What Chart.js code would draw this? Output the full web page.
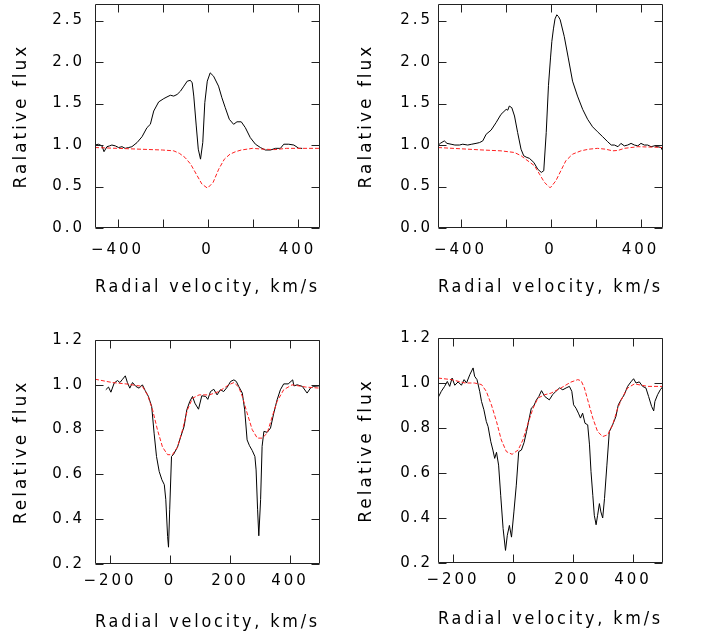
<!DOCTYPE html>
<html>
<head>
<meta charset="utf-8">
<script src="https://cdn.jsdelivr.net/npm/chart.js@4.4.0/dist/chart.umd.min.js"></script>
<style>
body { margin: 0; background: #fff; width: 705px; height: 637px; position: relative; overflow: hidden; }
canvas { position: absolute; }
</style>
</head>
<body>
<canvas id="c1" width="352" height="318" style="left:0;top:0"></canvas>
<canvas id="c2" width="353" height="318" style="left:352px;top:0"></canvas>
<canvas id="c3" width="352" height="319" style="left:0;top:318px"></canvas>
<canvas id="c4" width="353" height="319" style="left:352px;top:318px"></canvas>
<script>
// tick values
const topXTicks = [-400, -200, 0, 200, 400];
const topXLabels = [-400, 0, 400];
const topYTicks = [0, 0.5, 1.0, 1.5, 2.0, 2.5];
const botXTicks = [-200, 0, 200, 400];
const botXLabels = [-200, 0, 200, 400];
const botYTicks = [0.2, 0.4, 0.6, 0.8, 1.0, 1.2];

// panel 1 (top left)
const p1BlackV = [-500,-485,-469,-460,-447,-435,-425,-410,-395,-380,-366,-350,-336,-313,-291,-269,-254,-239,-217,-194,-180,-165,-150,-135,-120,-105,-90,-76,-68,-61,-50,-41,-31,-21,-12,-1,12,27,49,64,79,97,116,131,150,168,190,213,235,257,280,302,324,339,361,384,406,421];
const p1BlackF = [1.00,1.01,0.99,0.92,0.98,0.99,1.00,0.99,0.97,0.98,0.96,0.97,0.98,1.03,1.10,1.21,1.25,1.41,1.52,1.56,1.58,1.60,1.59,1.61,1.65,1.71,1.77,1.78,1.75,1.59,1.23,0.95,0.83,1.03,1.51,1.77,1.87,1.83,1.71,1.57,1.45,1.31,1.25,1.28,1.28,1.21,1.09,1.01,0.97,0.94,0.94,0.96,0.96,1.01,1.01,1.00,0.96,0.96];
const p1RedV = [-500,-400,-300,-200,-150,-125,-100,-75,-50,-25,0,25,50,75,100,125,150,200,250,300,350,400,450,500];
const p1RedF = [0.97,0.96,0.95,0.94,0.93,0.90,0.85,0.77,0.65,0.53,0.48,0.55,0.71,0.83,0.89,0.92,0.94,0.96,0.95,0.945,0.96,0.96,0.96,0.96];

// panel 2 (top right)
const p2BlackV = [-502,-490,-472,-460,-442,-425,-405,-390,-368,-350,-331,-315,-301,-286,-264,-242,-220,-197,-190,-183,-172,-160,-146,-131,-119,-105,-94,-74,-57,-41,-30,-19,-9,0,6,13,20,28,35,43,61,79,98,120,143,165,187,209,232,254,270,284,300,313,328,343,358,373,388,402,417,432,447,462,477,491,503];
const p2BlackF = [0.99,1.02,1.05,1.02,1.01,1.00,1.00,1.01,1.00,1.01,1.02,1.03,1.05,1.13,1.18,1.27,1.37,1.43,1.42,1.47,1.45,1.35,1.15,0.95,0.87,0.85,0.84,0.79,0.71,0.67,0.69,1.15,1.72,2.05,2.25,2.40,2.52,2.57,2.55,2.51,2.31,2.05,1.77,1.59,1.43,1.31,1.22,1.16,1.10,1.04,1.00,1.00,0.98,1.02,0.99,1.00,1.02,1.00,0.99,1.02,1.00,1.00,0.98,0.99,0.98,0.97,0.91];
const p2RedV = [-500,-400,-300,-220,-160,-130,-116,-71,-49,-27,-4,1,24,46,68,98,135,170,209,245,276,300,328,388,450,500];
const p2RedF = [0.97,0.955,0.94,0.93,0.91,0.87,0.84,0.75,0.65,0.55,0.49,0.49,0.57,0.69,0.81,0.89,0.93,0.95,0.96,0.95,0.93,0.935,0.96,0.98,0.975,0.97];

// panel 3 (bottom left)
const p3BlackV = [-214,-205,-197,-186,-175,-167,-158,-149,-142,-134,-125,-114,-103,-92,-83,-72,-61,-53,-45,-36,-27,-19,-14,-8,-5,-1,5,12,25,36,47,56,66,75,83,95,106,119,126,135,146,157,168,179,191,202,213,221,229,241,249,257,265,274,283,287,292,296,302,307,313,324,335,346,357,368,379,394,409,413,424,441,457,468,479,496,500];
const p3BlackF = [0.978,0.99,0.967,1.008,1.019,1.01,1.025,1.04,1.01,0.985,1.01,0.993,0.985,1.0,0.975,0.948,0.903,0.784,0.68,0.613,0.576,0.554,0.487,0.323,0.275,0.442,0.68,0.69,0.722,0.769,0.814,0.888,0.926,0.948,0.918,0.891,0.951,0.948,0.935,0.97,0.98,0.955,0.978,0.97,0.99,1.015,1.022,1.015,0.993,0.963,0.888,0.754,0.728,0.707,0.68,0.62,0.442,0.326,0.487,0.725,0.792,0.788,0.807,0.874,0.933,0.978,1.004,1.004,1.022,0.995,1.0,0.993,0.963,0.985,0.993,0.995,0.995];
const p3RedV = [-250,-192,-147,-92,-75,-58,-42,-25,-8,8,25,42,58,75,97,131,163,196,213,229,241,257,274,291,307,324,341,357,379,407,452,500];
const p3RedF = [1.025,1.01,1.004,0.993,0.955,0.888,0.8,0.722,0.688,0.688,0.722,0.8,0.888,0.94,0.955,0.955,0.97,1.0,1.01,0.99,0.948,0.874,0.8,0.762,0.762,0.784,0.859,0.926,0.978,1.0,0.99,0.985];

// panel 4 (bottom right)
const p4BlackV = [-250,-239,-228,-219,-211,-203,-194,-183,-172,-163,-155,-144,-133,-128,-120,-111,-105,-97,-89,-83,-74,-67,-61,-55,-48,-41,-33,-25,-19,-12,-5,3,11,19,28,37,45,53,61,70,78,86,95,106,121,132,143,155,166,177,188,196,202,210,218,225,232,240,249,255,260,266,271,277,282,288,293,299,305,313,321,332,343,351,360,371,382,393,402,410,421,432,443,452,462,469,473,482,491,500];
const p4BlackF = [0.934,0.963,0.985,1.007,0.985,1.022,0.99,1.005,0.99,1.015,1.0,1.037,1.067,1.03,1.015,0.963,0.918,0.881,0.829,0.806,0.739,0.702,0.665,0.692,0.635,0.501,0.353,0.256,0.323,0.367,0.315,0.427,0.546,0.695,0.702,0.736,0.784,0.836,0.888,0.9,0.925,0.94,0.966,0.94,0.925,0.948,0.963,0.978,0.97,0.978,0.985,0.963,0.903,0.888,0.866,0.844,0.866,0.821,0.814,0.725,0.606,0.501,0.412,0.37,0.412,0.464,0.427,0.4,0.487,0.635,0.784,0.814,0.851,0.903,0.925,0.948,0.985,1.005,1.019,1.0,1.005,0.985,0.978,0.94,0.896,0.876,0.918,0.948,0.97,0.985];
const p4RedV = [-250,-205,-160,-128,-105,-89,-72,-55,-39,-22,-3,17,33,50,67,83,106,127,160,193,216,227,238,249,266,282,299,316,332,349,366,382,405,449,500];
const p4RedF = [1.022,1.015,1.0,1.0,0.993,0.963,0.903,0.829,0.747,0.695,0.683,0.702,0.747,0.821,0.888,0.933,0.948,0.955,0.978,1.004,1.015,1.01,0.978,0.925,0.844,0.784,0.762,0.77,0.814,0.888,0.94,0.978,0.996,0.985,0.985];

Chart.defaults.font.family = "'DejaVu Sans', sans-serif";
Chart.defaults.color = '#000';

function pts(v, f) {
  return v.map((x, i) => ({x: x, y: f[i]}));
}

function fmtX(v) {
  return v < 0 ? '\u2212' + Math.abs(v) : String(v);
}

// frame with inward ticks on all four sides
const framePlugin = {
  id: 'frame',
  beforeUpdate(chart) { chart.ctx.letterSpacing = '3px'; },
  beforeDraw(chart) { chart.ctx.letterSpacing = '3px'; },
  afterDraw(chart) {
    const ctx = chart.ctx, a = chart.chartArea, xs = chart.scales.x, ys = chart.scales.y;
    const L = Math.round(a.left) + 0.5, R = Math.round(a.right) - 0.5;
    const T = Math.round(a.top) + 0.5, B = Math.round(a.bottom) - 0.5;
    ctx.save();
    ctx.strokeStyle = '#222';
    ctx.lineWidth = 1;
    ctx.beginPath();
    ctx.rect(L, T, R - L, B - T);
    xs.ticks.forEach(t => {
      const p = Math.round(xs.getPixelForValue(t.value)) + 0.5;
      ctx.moveTo(p, B); ctx.lineTo(p, B - 8);
      ctx.moveTo(p, T); ctx.lineTo(p, T + 8);
    });
    ys.ticks.forEach(t => {
      const p = Math.round(ys.getPixelForValue(t.value)) + 0.5;
      ctx.moveTo(L, p); ctx.lineTo(L + 8, p);
      ctx.moveTo(R, p); ctx.lineTo(R - 8, p);
    });
    ctx.stroke();
    ctx.restore();
  }
};

function makePanel(id, g) {
  new Chart(document.getElementById(id), {
    type: 'line',
    data: {
      datasets: [
        {data: pts(g.redV, g.redF), borderColor: '#ff2020', borderWidth: 1, borderDash: [4, 2], pointRadius: 0, tension: 0},
        {data: pts(g.blackV, g.blackF), borderColor: '#000', borderWidth: 1, pointRadius: 0, tension: 0}
      ]
    },
    options: {
      responsive: false,
      animation: false,
      devicePixelRatio: 1,
      layout: {autoPadding: false, padding: {left: 0, top: g.top, right: g.right, bottom: 0}},
      plugins: {legend: {display: false}, tooltip: {enabled: false}},
      scales: {
        x: {
          type: 'linear', min: g.xMin, max: g.xMax,
          afterBuildTicks: s => { s.ticks = g.xTicks.map(v => ({value: v})); },
          afterFit: s => { s.height = g.xh; s.paddingLeft = 0; s.paddingRight = 0; },
          grid: {display: false, drawTicks: false},
          border: {display: false},
          ticks: {padding: g.xPad, font: {size: 15}, maxRotation: 0, autoSkip: false,
            callback: v => g.xLabels.includes(v) ? fmtX(v) : ''},
          title: {display: true, text: 'Radial velocity, km/s', font: {size: 17}, padding: {top: 0, bottom: g.xTitlePad}}
        },
        y: {
          type: 'linear', min: g.yMin, max: g.yMax,
          afterBuildTicks: s => { s.ticks = g.yTicks.map(v => ({value: v})); },
          afterFit: s => { s.width = g.yw; s.paddingTop = 0; s.paddingBottom = 0; },
          grid: {display: false, drawTicks: false},
          border: {display: false},
          ticks: {padding: g.yPad, font: {size: 15}, autoSkip: false, callback: v => v.toFixed(1)},
          title: {display: true, text: g.yTitle, font: {size: 17}, padding: {top: g.yTitlePad, bottom: 0}}
        }
      }
    },
    plugins: [framePlugin]
  });
}

makePanel('c1', {blackV: p1BlackV, blackF: p1BlackF, redV: p1RedV, redF: p1RedF,
  xMin: -500, xMax: 500, xTicks: topXTicks, xLabels: topXLabels, yMin: 0, yMax: 2.7, yTicks: topYTicks,
  yTitle: 'Ralative flux', top: 4, right: 32, xh: 90, yw: 95, xPad: 13, yPad: 10, xTitlePad: 20, yTitlePad: 11});
makePanel('c2', {blackV: p2BlackV, blackF: p2BlackF, redV: p2RedV, redF: p2RedF,
  xMin: -500, xMax: 500, xTicks: topXTicks, xLabels: topXLabels, yMin: 0, yMax: 2.7, yTicks: topYTicks,
  yTitle: 'Ralative flux', top: 4, right: 42, xh: 90, yw: 86, xPad: 13, yPad: 5, xTitlePad: 20, yTitlePad: 4});
makePanel('c3', {blackV: p3BlackV, blackF: p3BlackF, redV: p3RedV, redF: p3RedF,
  xMin: -250, xMax: 500, xTicks: botXTicks, xLabels: botXLabels, yMin: 0.2, yMax: 1.2, yTicks: botYTicks,
  yTitle: 'Relative flux', top: 22, right: 32, xh: 73, yw: 95, xPad: 8, yPad: 10, xTitlePad: 4, yTitlePad: 11});
makePanel('c4', {blackV: p4BlackV, blackF: p4BlackF, redV: p4RedV, redF: p4RedF,
  xMin: -250, xMax: 500, xTicks: botXTicks, xLabels: botXLabels, yMin: 0.2, yMax: 1.2, yTicks: botYTicks,
  yTitle: 'Relative flux', top: 20, right: 42, xh: 74, yw: 86, xPad: 8, yPad: 5, xTitlePad: 7, yTitlePad: 4});
</script>
</body>
</html>
